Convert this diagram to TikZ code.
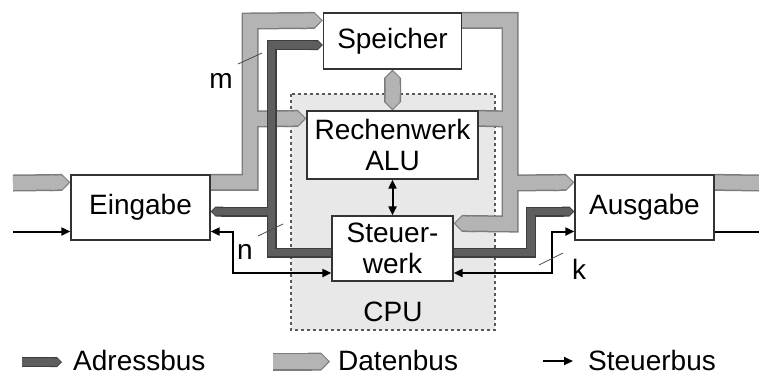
\documentclass[tikz,border=0pt]{standalone}
\usepackage{fontspec}
\setmainfont{Liberation Sans}
\usetikzlibrary{arrows.meta,calc}
\pgfdeclarelayer{back}
\pgfdeclarelayer{bus}
\pgfsetlayers{back,bus,main}
\definecolor{datafill}{HTML}{B4B4B4}
\definecolor{dataedge}{HTML}{7C7C7C}
\definecolor{addrfill}{HTML}{5E5E5E}
\definecolor{addredge}{HTML}{3E3E3E}
\definecolor{cpufill}{HTML}{E8E8E8}
\definecolor{boxline}{HTML}{333333}
\begin{document}
\begin{tikzpicture}[x=1pt,y=-1pt,
  unit/.style={draw=boxline, line width=1.3pt, fill=white, inner sep=0pt, align=center, font=\fontsize{28}{31}\selectfont},
  lbl/.style={inner sep=0pt, font=\fontsize{28}{31}\selectfont},
  ctrl/.style={line width=2pt, draw=black, -{Triangle[length=9pt,width=8pt]}},
  ctrlboth/.style={line width=2pt, draw=black, {Triangle[length=9pt,width=8pt]}-{Triangle[length=9pt,width=8pt]}},
  tick/.style={line width=0.8pt, draw=black!70},
  cpubox/.style={fill=cpufill, draw=black!65, line width=1.2pt, dash pattern=on 3pt off 3pt}
]
\useasboundingbox (0,0) rectangle (759,376);

% units
\node[unit, minimum width=138pt, minimum height=56pt] (spe) at (392.5,41) {Speicher};
\node[unit, minimum width=171pt, minimum height=68pt] (rw) at (392.5,145) {Rechenwerk\\ALU};
\node[unit, minimum width=121pt, minimum height=65pt] (sw) at (392.5,248.5) {Steuer-\\werk};
\node[unit, minimum width=139pt, minimum height=65pt] (ein) at (140.5,207.5) {Eingabe};
\node[unit, minimum width=139pt, minimum height=65pt] (aus) at (644.5,207.5) {Ausgabe};

% CPU frame
\begin{pgfonlayer}{back}
\draw[cpubox] (291,94) rectangle (495,330);
\end{pgfonlayer}
\node[lbl] (cpu) at (393,312) {CPU};

\begin{pgfonlayer}{bus}
% data bus
\foreach \lw/\col/\s in {17/dataedge/0,14/datafill/1.6}{
  \draw[line width=\lw pt, draw=\col, -{Triangle Cap}, shorten >=\s pt] (13,183) -- ([yshift=-8pt]ein.north west);
  \draw[line width=\lw pt, draw=\col, -{Triangle Cap}, shorten >=\s pt] ([yshift=-8pt]ein.north east) -| (250,21) -- ([yshift=-8pt]spe.north west);
  \draw[line width=\lw pt, draw=\col, -{Triangle Cap}, shorten >=\s pt] (250,119) -- ([yshift=-8pt]rw.north west);
  \draw[line width=\lw pt, draw=\col, -{Triangle Cap}, shorten >=\s pt] ([yshift=-8pt]spe.north east) -| (510,224) -- ([yshift=-8pt]sw.north east);
  \draw[line width=\lw pt, draw=\col] ([yshift=-8pt]rw.north east) -- (510,119);
  \draw[line width=\lw pt, draw=\col, -{Triangle Cap}, shorten >=\s pt] (510,183) -- ([yshift=-8pt]aus.north west);
  \draw[line width=\lw pt, draw=\col] ([yshift=-8pt]aus.north east) -- (759,183);
  \draw[line width=\lw pt, draw=\col, {Triangle Cap}-{Triangle Cap}, shorten >=\s pt, shorten <=\s pt] (spe.south) -- (rw.north);
}
% address bus
\foreach \lw/\col/\s in {10/addredge/0,7.5/addrfill/1.2}{
  \draw[line width=\lw pt, draw=\col, -{Triangle Cap}, shorten >=\s pt] ([yshift=-4pt]sw.west) -| (271.5,45) -- ([yshift=-4pt]spe.west);
  \draw[line width=\lw pt, draw=\col, -{Triangle Cap}, shorten >=\s pt] (271.5,211.5) -- ([yshift=-4pt]ein.east);
  \draw[line width=\lw pt, draw=\col, -{Triangle Cap}, shorten >=\s pt] ([yshift=-4pt]sw.east) -| (531,211.5) -- ([yshift=-4pt]aus.west);
}
% control bus
\draw[ctrl] (13,231.5) -- ([yshift=-24pt]ein.west);
\draw[ctrlboth] ([yshift=-24pt]ein.east) -| (233,273) -- ([yshift=-24.5pt]sw.west);
\draw[ctrlboth] ([yshift=-24.5pt]sw.east) -| (552,231.5) -- ([yshift=-24pt]aus.west);
\draw[line width=2pt] ([yshift=-24pt]aus.east) -- (759,231.5);
\draw[ctrlboth] (rw.south) -- (sw.north);
\end{pgfonlayer}

% width marks
\draw[tick] (238,64) -- (262,53);
\node[lbl] (m) at (221,81) {m};
\draw[tick] (258,236) -- (283,224);
\node[lbl] (n) at (245,252) {n};
\draw[tick] (539,265) -- (563,253);
\node[lbl] (k) at (579,269) {k};

% legend
\node[lbl, anchor=base west] (la) at (73,370) {Adressbus};
\node[lbl, anchor=base west] (ld) at (338,370) {Datenbus};
\node[lbl, anchor=base west] (ls) at (588,370) {Steuerbus};
\coordinate (la0) at (22,362);
\coordinate (ld0) at (273,361.5);
\coordinate (ls0) at (543,361);
\foreach \lw/\col/\s in {10/addredge/0,7.5/addrfill/1.2}
  \draw[line width=\lw pt, draw=\col, -{Triangle Cap}, shorten >=\s pt] (la0) -- ++(40,0);
\foreach \lw/\col/\s in {18/dataedge/0,15/datafill/1.6}
  \draw[line width=\lw pt, draw=\col, -{Triangle Cap}, shorten >=\s pt] (ld0) -- ++(57,0);
\draw[ctrl] (ls0) -- ++(30,0);
\end{tikzpicture}
\end{document}
